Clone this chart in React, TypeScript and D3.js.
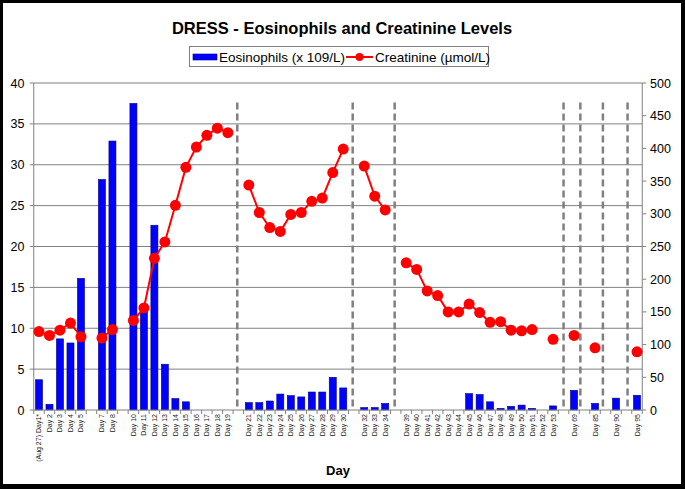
import React from "react";
import * as d3 from "d3";

const categories: string[] = [
  "(Aug 27) Day1*", "Day 2", "Day 3", "Day 4", "Day 5", "", "Day 7", "Day 8", "",
  "Day 10", "Day 11", "Day 12", "Day 13", "Day 14", "Day 15", "Day 16", "Day 17", "Day 18", "Day 19", "",
  "Day 21", "Day 22", "Day 23", "Day 24", "Day 25", "Day 26", "Day 27", "Day 28", "Day 29", "Day 30", "",
  "Day 32", "Day 33", "Day 34", "",
  "Day 39", "Day 40", "Day 41", "Day 42", "Day 43", "Day 44", "Day 45", "Day 46", "Day 47", "Day 48",
  "Day 49", "Day 50", "Day 51", "Day 52", "Day 53", "",
  "Day 69", "", "Day 85", "", "Day 90", "", "Day 95",
];

const eosinophils: (number | null)[] = [
  3.7, 0.7, 8.7, 8.2, 16.1, null, 28.2, 32.9, null,
  37.5, 12.2, 22.6, 5.6, 1.4, 1.0, 0, 0, 0, 0, null,
  0.9, 0.9, 1.1, 1.95, 1.75, 1.6, 2.2, 2.2, 4.0, 2.7, null,
  0.3, 0.3, 0.8, null,
  0, 0, 0, 0, 0, 0, 2.0, 1.9, 1.0, 0.2,
  0.45, 0.6, 0.2, 0, 0.5, null,
  2.4, null, 0.8, null, 1.45, null, 1.8,
];

const creatinine: (number | null)[] = [
  120, 114, 122, 133, 112, null, 110, 123, null,
  137, 156, 232, 257, 313, 371, 402, 420, 431, 424, null,
  344, 302, 279, 273, 299, 302, 319, 324, 363, 399, null,
  373, 327, 306, null,
  225, 215, 182, 175, 150, 150, 162, 149, 134, 135,
  122, 121, 123, null, 108, null,
  114, null, 95, null, null, null, 89,
];

// dashed separators, in category-slot units
const dividerSlots: number[] = [18.9, 29.9, 33.9, 50, 51.6, 53.75, 56.1];
const dividerTop = 470; // in µmol/L units

const leftTicks: number[] = [0, 5, 10, 15, 20, 25, 30, 35, 40];
const rightTicks: number[] = [0, 50, 100, 150, 200, 250, 300, 350, 400, 450, 500];

const W = 685;
const H = 489;
const FONT = "'Liberation Sans', Arial, sans-serif";

export default function App() {
  const left = 33.75;
  const right = 642.25;
  const top = 83;
  const bottom = 410;

  const idx = categories.map((_, i) => String(i));
  const x = d3.scaleBand<string>().domain(idx).range([left, right]).paddingInner(0.33).paddingOuter(0.165);
  const step = x.step();
  const cx = (i: number) => (x(String(i)) as number) + x.bandwidth() / 2;
  const slotX = d3.scaleLinear().domain([-0.5, categories.length - 0.5]).range([left, right]);

  const yL = d3.scaleLinear().domain([0, 40]).range([bottom, top]);
  const yR = d3.scaleLinear().domain([0, 500]).range([bottom, top]);

  const line = d3
    .line<number | null>()
    .defined((d) => d !== null)
    .x((_, i) => cx(i))
    .y((d) => yR(d as number));

  const boundaries = d3.range(categories.length + 1).map((i) => left + i * step);

  return (
    <svg width={W} height={H} style={{ position: "absolute", left: 0, top: 0, display: "block" }} fontFamily={FONT}>
      <rect x={0} y={0} width={W} height={H} fill="#000" />
      <rect x={3} y={3} width={W - 7} height={H - 8} fill="#fff" />

      <text x={342} y={34} textAnchor="middle" fontSize={16.5} fontWeight="bold" fill="#000">
        DRESS - Eosinophils and Creatinine Levels
      </text>

      {/* legend */}
      <g>
        <rect x={189.5} y={46.5} width={299} height={20} fill="#fff" stroke="#808080" strokeWidth={1} />
        <rect x={193} y={54} width={24} height={6} fill="#0000ff" stroke="#000080" strokeWidth={0.6} />
        <text x={219} y={61.8} fontSize={13.5} fill="#000">Eosinophils (x 109/L)</text>
        <line x1={346} x2={373} y1={57} y2={57} stroke="#ff0000" strokeWidth={2} />
        <circle cx={359.5} cy={57} r={4} fill="#ff0000" />
        <text x={375} y={61.8} fontSize={13.5} fill="#000">Creatinine (µmol/L)</text>
      </g>

      {/* gridlines */}
      {leftTicks.slice(1).map((t) => (
        <line key={"g" + t} x1={left} x2={right} y1={yL(t)} y2={yL(t)} stroke="#808080" strokeWidth={1} />
      ))}

      {/* bars */}
      {eosinophils.map((v, i) =>
        v !== null && v > 0 ? (
          <rect
            key={"b" + i}
            x={x(String(i))}
            y={yL(v)}
            width={x.bandwidth()}
            height={bottom - yL(v)}
            fill="#0000ff"
            stroke="#000080"
            strokeWidth={0.6}
          />
        ) : null
      )}

      {/* dashed dividers */}
      {dividerSlots.map((s, i) => (
        <line
          key={"d" + i}
          x1={slotX(s)}
          x2={slotX(s)}
          y1={yR(dividerTop)}
          y2={bottom}
          stroke="#808080"
          strokeWidth={2.5}
          strokeDasharray="7,4"
        />
      ))}

      {/* axes */}
      <line x1={left} x2={left} y1={top} y2={bottom} stroke="#808080" strokeWidth={1} />
      <line x1={right} x2={right} y1={top} y2={bottom} stroke="#808080" strokeWidth={1} />
      <line x1={left} x2={right} y1={bottom} y2={bottom} stroke="#808080" strokeWidth={1} />
      {leftTicks.map((t) => (
        <g key={"lt" + t}>
          <line x1={left - 4} x2={left} y1={yL(t)} y2={yL(t)} stroke="#808080" />
          <text x={24.5} y={yL(t) + 4.5} textAnchor="end" fontSize={12.5} fill="#000">
            {t}
          </text>
        </g>
      ))}
      {rightTicks.map((t) => (
        <g key={"rt" + t}>
          <line x1={right} x2={right + 4} y1={yR(t)} y2={yR(t)} stroke="#808080" />
          <text x={650} y={yR(t) + 4.5} textAnchor="start" fontSize={12.5} fill="#000">
            {t}
          </text>
        </g>
      ))}
      {boundaries.map((b, i) => (
        <line key={"xt" + i} x1={b} x2={b} y1={bottom} y2={bottom + 4} stroke="#808080" />
      ))}
      {categories.map((c, i) =>
        c ? (
          <text
            key={"xl" + i}
            transform={`translate(${cx(i) + 2.5},${bottom + 4}) rotate(-90)`}
            textAnchor="end"
            fontSize={7}
            fill="#222"
          >
            {c}
          </text>
        ) : null
      )}

      {/* creatinine line */}
      <path d={line(creatinine) || ""} fill="none" stroke="#ff0000" strokeWidth={2} />
      {creatinine.map((v, i) =>
        v !== null ? <circle key={"c" + i} cx={cx(i)} cy={yR(v)} r={5.5} fill="#ff0000" /> : null
      )}

      <text x={(left + right) / 2} y={475} textAnchor="middle" fontSize={13} fontWeight="bold" fill="#000">
        Day
      </text>
    </svg>
  );
}
